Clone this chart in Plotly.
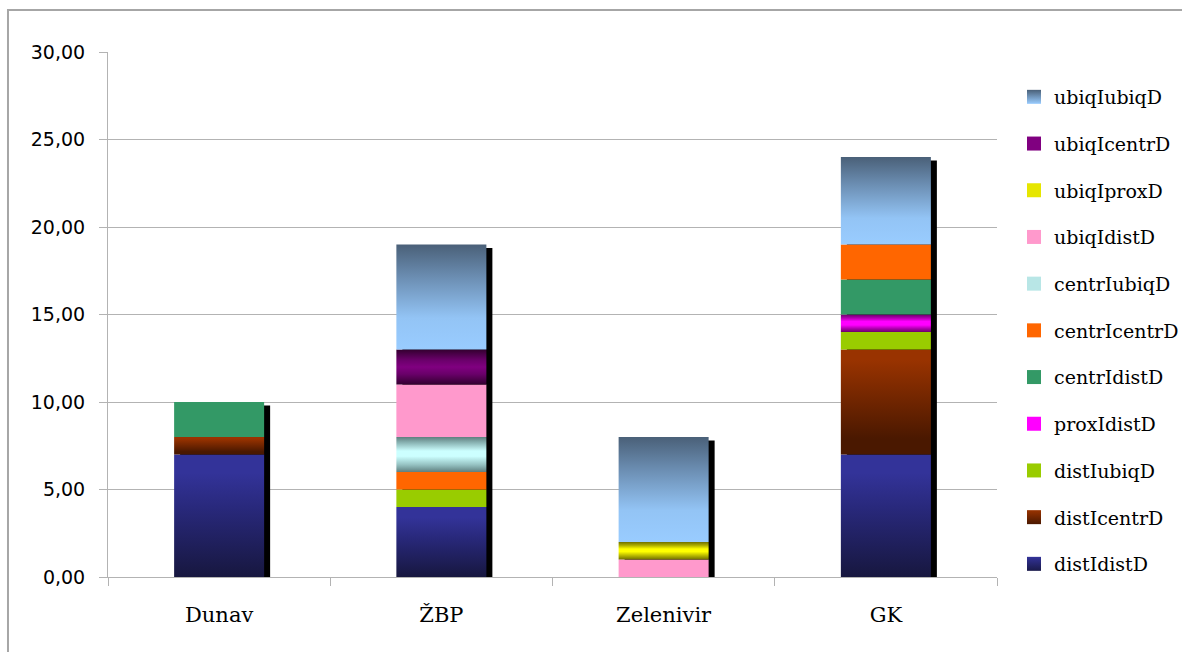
import plotly.graph_objects as go

categories = ["Dunav", "ŽBP", "Zelenivir", "GK"]

# stacking order bottom -> top
series_names = ["distIdistD", "distIcentrD", "distIubiqD", "proxIdistD", "centrIdistD",
                "centrIcentrD", "centrIubiqD", "ubiqIdistD", "ubiqIproxD", "ubiqIcentrD",
                "ubiqIubiqD"]

distIdistD = [7, 4, 0, 7]
distIcentrD = [1, 0, 0, 6]
distIubiqD = [0, 1, 0, 1]
proxIdistD = [0, 0, 0, 1]
centrIdistD = [2, 0, 0, 2]
centrIcentrD = [0, 1, 0, 2]
centrIubiqD = [0, 2, 0, 0]
ubiqIdistD = [0, 3, 1, 0]
ubiqIproxD = [0, 0, 1, 0]
ubiqIcentrD = [0, 2, 0, 0]
ubiqIubiqD = [0, 6, 6, 5]

series_values = [distIdistD, distIcentrD, distIubiqD, proxIdistD, centrIdistD,
                 centrIcentrD, centrIubiqD, ubiqIdistD, ubiqIproxD, ubiqIcentrD,
                 ubiqIubiqD]

y_ticks = [0, 5, 10, 15, 20, 25, 30]
y_ticktext = ["0,00", "5,00", "10,00", "15,00", "20,00", "25,00", "30,00"]

# styles: gradient colorscale (bottom -> top) or solid
styles = {
    "distIdistD": [[0, "#17173f"], [0.55, "#28287a"], [0.85, "#333399"], [1, "#333399"]],
    "distIcentrD": [[0, "#4a1800"], [0.15, "#4a1800"], [0.9, "#993300"], [1, "#993300"]],
    "distIubiqD": "#99cc00",
    "proxIdistD": [[0, "#6a006a"], [0.2, "#b000b0"], [0.4, "#ff00ff"], [0.6, "#ff00ff"], [0.8, "#b000b0"], [1, "#6a006a"]],
    "centrIdistD": "#339966",
    "centrIcentrD": "#ff6600",
    "centrIubiqD": [[0, "#5f7f7f"], [0.2, "#94c0c0"], [0.45, "#ccffff"], [0.6, "#ccffff"], [0.8, "#94c0c0"], [1, "#5f7f7f"]],
    "ubiqIdistD": "#ff99cc",
    "ubiqIproxD": [[0, "#707000"], [0.2, "#b0b000"], [0.45, "#ffff00"], [0.6, "#ffff00"], [0.8, "#b0b000"], [1, "#707000"]],
    "ubiqIcentrD": [[0, "#33002f"], [0.3, "#6a006a"], [0.5, "#800080"], [0.7, "#6a006a"], [1, "#33002f"]],
    "ubiqIubiqD": [[0, "#99ccff"], [0.3, "#93c4f5"], [0.7, "#6a8cb0"], [1, "#4a6078"]],
}
legend_marker = {
    "distIdistD": ("#333399", "#1a1a4a"),
    "distIcentrD": ("#993300", "#4a1800"),
    "proxIdistD": ("#ff00ff", None),
    "centrIubiqD": ("#b8e6e6", None),
    "ubiqIproxD": ("#e6e600", None),
    "ubiqIcentrD": ("#800080", None),
    "ubiqIubiqD": ("#4a6078", "#99ccff"),
}

bar_w = 0.405
shadow_dx = 0.027
shadow_dy = 0.2

fig = go.Figure()

# shadows
totals = [sum(v[i] for v in series_values) for i in range(len(categories))]
for i, t in enumerate(totals):
    x0 = i - bar_w / 2 + shadow_dx
    x1 = i + bar_w / 2 + shadow_dx
    fig.add_trace(go.Scatter(
        x=[x0, x1, x1, x0, x0], y=[0, 0, t - shadow_dy, t - shadow_dy, 0],
        mode="lines", line=dict(width=0, color="black"), fill="toself",
        fillcolor="black", showlegend=False, hoverinfo="skip"))

base = [0] * len(categories)
for name, vals in zip(series_names, series_values):
    st = styles[name]
    for i, v in enumerate(vals):
        if v <= 0:
            continue
        b = base[i]
        x0 = i - bar_w / 2
        x1 = i + bar_w / 2
        kw = dict(x=[x0, x1, x1, x0, x0], y=[b, b, b + v, b + v, b],
                  mode="lines", line=dict(width=0), fill="toself",
                  showlegend=False, name=name,
                  hovertemplate=f"{categories[i]}<br>{name}: {v}<extra></extra>")
        if isinstance(st, str):
            kw["fillcolor"] = st
            kw["line"] = dict(width=0, color=st)
        else:
            kw["fillgradient"] = dict(type="vertical", colorscale=st, start=b, stop=b + v)
        fig.add_trace(go.Scatter(**kw))
        base[i] += v

# legend entries (top of legend = top of stack)
for name in reversed(series_names):
    st = styles[name]
    if isinstance(st, str):
        marker = dict(symbol="square", size=14, color=st)
    else:
        c, g = legend_marker[name]
        marker = dict(symbol="square", size=14, color=c)
        if g:
            marker["gradient"] = dict(type="vertical", color=g)
    fig.add_trace(go.Scatter(x=[None], y=[None], mode="markers", marker=marker,
                             name=name, legendgroup=name, showlegend=True))

grid_c = "#b3b3b3"
frame_c = "#a6a6a6"

fig.update_layout(
    width=1182, height=652,
    margin=dict(l=108, r=185, t=52, b=75, autoexpand=False),
    paper_bgcolor="white", plot_bgcolor="white",
    showlegend=True,
    legend=dict(xref="container", yref="container", x=1014 / 1182, xanchor="left",
                y=1 - 78 / 652, yanchor="top", maxheight=620,
                traceorder="grouped", tracegroupgap=19,
                font=dict(family="DejaVu Serif", size=19, color="black"),
                bgcolor="rgba(0,0,0,0)", itemwidth=30),
    xaxis=dict(range=[-0.5, 3.5], tickvals=list(range(len(categories))),
               ticktext=categories, ticks="", showgrid=False, zeroline=False,
               showline=True, linecolor=grid_c, linewidth=1,
               tickfont=dict(family="DejaVu Serif", size=21, color="black"),
               ticklabelstandoff=19,
               minor=dict(tickvals=[i - 0.5 for i in range(len(categories) + 1)],
                          ticks="outside", ticklen=8, tickcolor=grid_c, showgrid=False)),
    yaxis=dict(range=[0, 30], tickvals=y_ticks, ticktext=y_ticktext,
               ticks="outside", ticklen=8, tickcolor=grid_c,
               showgrid=True, gridcolor=grid_c, gridwidth=1, zeroline=False,
               showline=True, linecolor=grid_c, linewidth=1,
               tickfont=dict(family="DejaVu Sans", size=19, color="black"),
               ticklabelstandoff=10),
    shapes=[dict(type="path", xref="paper", yref="paper",
                 path="M -0.1125,-0.3 L -0.1125,1.08 L 1.4,1.08",
                 line=dict(color=frame_c, width=2))],
)

fig.write_html("out.html")
